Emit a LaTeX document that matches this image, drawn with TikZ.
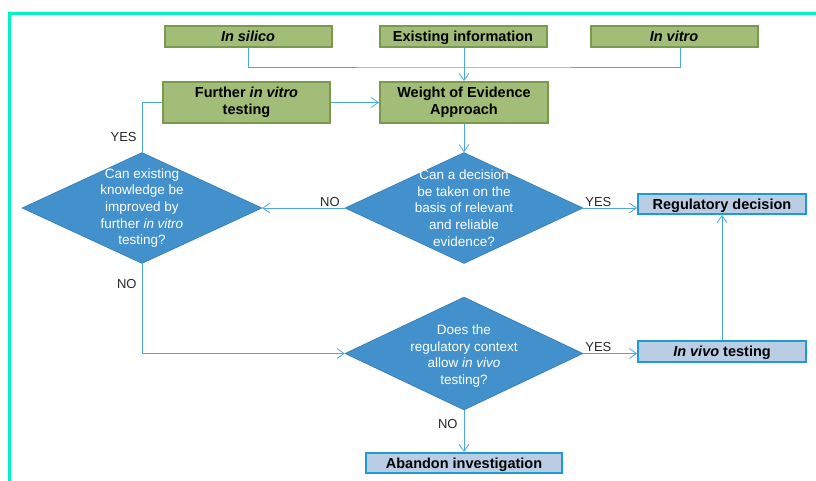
\documentclass[tikz,border=0pt]{standalone}
\usepackage{fontspec}
\setmainfont{Liberation Sans}
\usepackage{tikz}
\usetikzlibrary{arrows.meta, positioning, shapes.geometric}
\definecolor{boxgreen}{HTML}{A1BD78}
\definecolor{edgegreen}{HTML}{7B984F}
\definecolor{diafill}{HTML}{4391CC}
\definecolor{diaedge}{HTML}{3479B3}
\definecolor{outfill}{HTML}{B9CDE5}
\definecolor{outedge}{HTML}{1E9BD7}
\definecolor{flowblue}{HTML}{4AA8DF}
\definecolor{frameteal}{HTML}{00F2C4}
\newcommand{\bxstrut}{\rule[-3pt]{0pt}{16.9pt}}

\begin{document}
\begin{tikzpicture}[
  x=1pt, y=-1pt,
  node distance=45pt,
  input/.style={draw=edgegreen, fill=boxgreen, line width=2pt, align=center, inner sep=0pt, minimum width=167pt, minimum height=21pt, font=\fontsize{14.5}{17}\selectfont\bfseries, execute at begin node=\bxstrut, execute at end node=\bxstrut},
  result/.style={draw=outedge, fill=outfill, line width=2pt, align=center, inner sep=0pt, minimum width=168pt, minimum height=20pt, font=\fontsize{14.5}{17}\selectfont\bfseries, execute at begin node=\bxstrut, execute at end node=\bxstrut},
  question/.style={diamond, draw=diaedge, fill=diafill, line width=0.6pt, inner sep=0pt, minimum width=238pt, minimum height=111pt},
  qtext/.style={text=white, align=center, font=\fontsize{13.5}{16.6}\selectfont},
  answer/.style={inner sep=1pt, text=black!85, font=\fontsize{13}{15}\selectfont},
  arrow/.style={-{Straight Barb[length=7pt, width=10pt]}, line width=0.8pt, draw=flowblue},
  link/.style={line width=0.8pt, draw=flowblue}
]
\useasboundingbox (0,0) rectangle (816,480);
\draw[frameteal, line width=3pt] (9.5,490) |- (830,13);

\node[input] (info) at (463,36.5) {Existing information};
\node[input, left=46pt of info] (silico) {\itshape In silico};
\node[input, right=42pt of info] (vitro) {\itshape In vitro};
\node[input, minimum width=168pt, minimum height=41pt] (woe) at (464,102.5) {Weight of Evidence\\Approach};
\node[input, minimum width=167pt, minimum height=41pt, left=48pt of woe] (further) {Further \textit{in vitro}\\testing};
\node[question, label={[qtext]center:Can a decision\\be taken on the\\basis of relevant\\and reliable\\evidence?}] (dec) at (464,208) {};
\node[question, minimum width=240pt, label={[qtext]center:Can existing\\knowledge be\\improved by\\further \textit{in vitro}\\testing?}] (improve) at (142,208) {};
\node[question, minimum height=113pt, label={[qtext, yshift=-2.5pt]center:Does the\\regulatory context\\allow \textit{in vivo}\\testing?}] (ctx) at (464,353.5) {};
\node[result] (regdec) at (722,204) {Regulatory decision};
\node[result, minimum height=21pt] (invivo) at (722,351.5) {\textit{In vivo} testing};
\node[result, minimum width=196pt] (abandon) at (464,463) {Abandon investigation};

\coordinate (join) at (464,67);
\draw[link] (silico.south) |- (join) -| ([xshift=6pt]vitro.south);
\draw[arrow] (info.south -| join) -- (woe);
\foreach \a/\b in {further/woe, woe/dec, invivo/regdec}
  \draw[arrow] (\a) -- (\b);
\draw[arrow] (dec.west) -- node[answer, above, pos=0.18] {NO} (improve.east);
\draw[arrow] (dec.east) -- node[answer, above, pos=0.28] {YES} (dec.east -| regdec.west);
\draw[link] (improve.north) |- node[answer, left=4pt, pos=0.15] {YES} (further.west);
\draw[arrow] (improve.south) |- node[answer, left=4pt, pos=0.11] {NO} (ctx.west);
\draw[arrow] (ctx.east) -- node[answer, above, pos=0.28] {YES} (ctx.east -| invivo.west);
\draw[arrow] (ctx) -- node[answer, left=5pt, pos=0.34] {NO} (abandon);
\end{tikzpicture}
\end{document}
